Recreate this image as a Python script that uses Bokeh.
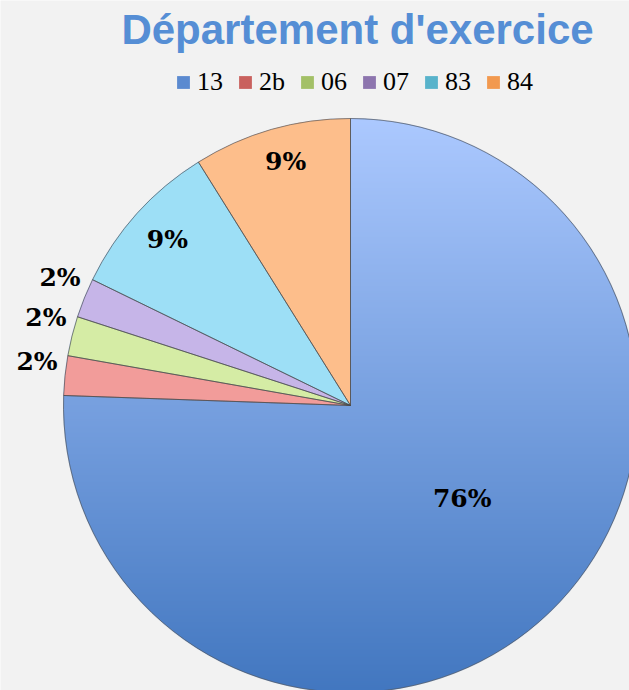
import numpy as np
from bokeh.plotting import figure
from bokeh.models import ColumnDataSource, Range1d, Legend, LegendItem
from bokeh.core.properties import value
from bokeh.embed import file_html
from bokeh.resources import INLINE

# ---------------- data ----------------
categories = ["13", "2b", "06", "07", "83", "84"]
counts = [34, 1, 1, 1, 4, 4]
slice_colors = ["#7FA6E6", "#F29C9A", "#D5ECA5", "#C6B5E8", "#9DDFF6", "#FDBE8B"]
legend_colors = ["#5B8AD0", "#C9615E", "#A3C067", "#8D75AE", "#58B3CB", "#F2994F"]
title_text = "Département d'exercice"

# ---------------- layout ----------------
W, H = 629, 690
cx, cy, R = 350, 285, 287
lab_rf = [0.506, 1.032, 1.036, 1.041, 0.861, 0.88]
lab_shift = [6.3, -2.5, -3.2, -3.4, -0.2, -1.1]
lab_align = ["center", "right", "right", "right", "center", "center"]

total = float(sum(counts))
frac = np.array(counts) / total
cum = np.concatenate([[0.0], np.cumsum(frac)])
start = np.pi / 2 - cum[:-1] * 2 * np.pi
end = np.pi / 2 - cum[1:] * 2 * np.pi
mid = (start + end) / 2
la = mid + np.radians(lab_shift)
lx = cx + np.array(lab_rf) * R * np.cos(la)
ly = cy + np.array(lab_rf) * R * np.sin(la)
labels = [f"{round(100 * f)}%" for f in frac]

src = ColumnDataSource(dict(cat=categories, start=start, end=end,
                            color=slice_colors, lcolor=legend_colors,
                            x=[cx] * 6, y=[cy] * 6))

p = figure(width=W, height=H, output_backend="svg", toolbar_location=None,
           x_range=Range1d(0, W), y_range=Range1d(0, H), min_border=0)
p.axis.visible = False
p.grid.visible = False
p.outline_line_color = None
p.background_fill_color = "#F2F2F2"
p.border_fill_color = "#F2F2F2"

# base wedges (carry the legend colours)
rA = p.wedge(x="x", y="y", radius=R, start_angle="start", end_angle="end",
             direction="clock", source=src, fill_color="lcolor", line_color=None)

# gradient shading for the whole disc (visible only where slice "13" is)
N = int(2 * R)
ys = cy - R + (np.arange(N) + 0.5) * (2 * R / N)
xs = cx - R + (np.arange(N) + 0.5) * (2 * R / N)
XX, YY = np.meshgrid(xs, ys)
d = np.sqrt((XX - cx) ** 2 + (YY - cy) ** 2)
t = (YY - (cy - R)) / (2 * R)
top = np.array([172, 201, 255])
bot = np.array([66, 119, 192])
img = np.empty((N, N), dtype=np.uint32)
view = img.view(dtype=np.uint8).reshape((N, N, 4))
for k in range(3):
    view[:, :, k] = (bot[k] + (top[k] - bot[k]) * t).astype(np.uint8)
view[:, :, 3] = (np.clip(R - d + 0.5, 0, 1) * 255).astype(np.uint8)
p.image_rgba(image=[img], x=cx - R, y=cy - R, dw=2 * R, dh=2 * R)

# small slices on top with their own colours
src2 = ColumnDataSource(dict(start=start[1:], end=end[1:], color=slice_colors[1:],
                             x=[cx] * 5, y=[cy] * 5))
p.wedge(x="x", y="y", radius=R, start_angle="start", end_angle="end",
        direction="clock", source=src2, fill_color="color", line_color=None)
# outlines of all slices
p.wedge(x="x", y="y", radius=R, start_angle="start", end_angle="end",
        direction="clock", source=src, fill_alpha=0, line_color="#4a4a4a",
        line_alpha=0.6, line_width=1)

# percentage labels
for i in range(6):
    p.text(x=[lx[i]], y=[ly[i]], text=[labels[i]], text_align=lab_align[i],
           text_baseline="middle", text_font=value("DejaVu Serif"),
           text_font_style="bold", text_font_size="25px", text_color="#000000")

# title
p.text(x=[357], y=[661], text=[title_text], text_align="center",
       text_baseline="alphabetic", text_font=value("Liberation Sans"),
       text_font_style="bold", text_font_size="42px", text_color="#558ED5")

legend = Legend(items=[LegendItem(label=c, renderers=[rA], index=i)
                       for i, c in enumerate(categories)],
                orientation="horizontal", location=(175, 593),
                glyph_width=16, glyph_height=16, label_standoff=6, spacing=14,
                padding=0, margin=0, background_fill_alpha=0, border_line_alpha=0,
                label_text_font="Liberation Serif", label_text_font_size="26px",
                label_text_color="#000000")
p.add_layout(legend)

open("out.html", "w").write(file_html(p, INLINE))
